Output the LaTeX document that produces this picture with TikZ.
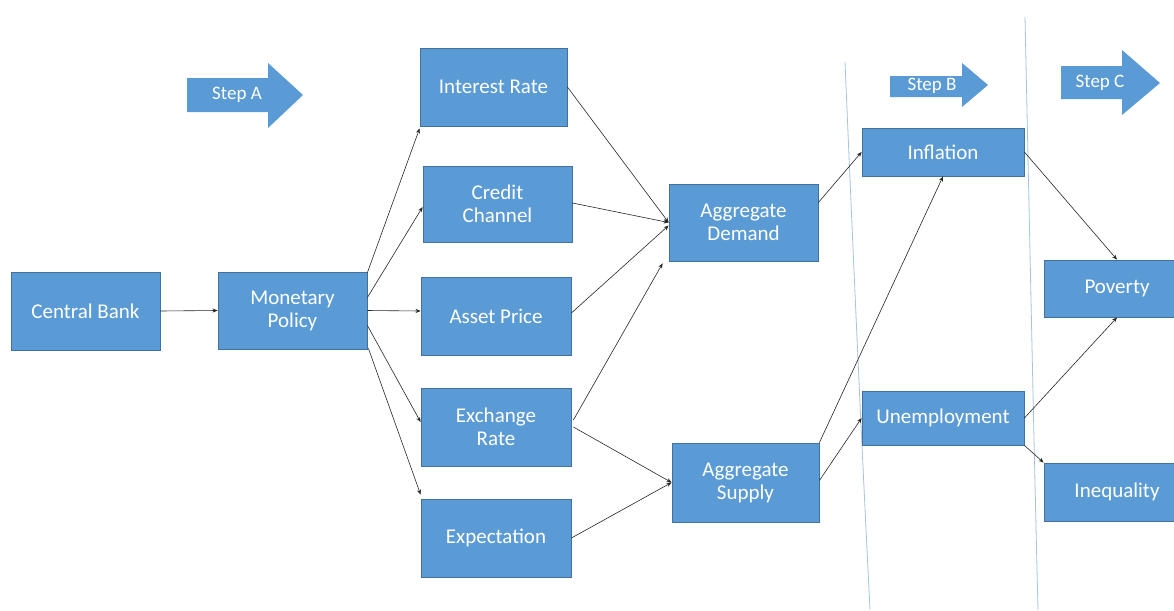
\documentclass[tikz,border=0pt]{standalone}
\usepackage{fontspec}
\setmainfont{Carlito}
\usetikzlibrary{calc,arrows.meta}
\definecolor{boxblue}{HTML}{5B9BD5}
\definecolor{boxedge}{HTML}{41719C}
\definecolor{divider}{HTML}{A7C3E0}
\begin{document}
\begin{tikzpicture}[x=1pt,y=-1pt,
  box/.style={draw=boxedge,line width=0.8pt,fill=boxblue,text=white,inner sep=0pt,
    align=center,font=\fontsize{21}{23}\selectfont},
  link/.style={draw=black!85,line width=0.6pt,-{Stealth[length=5pt,width=4pt]}},
  steparrow/.style={fill=boxblue,draw=none},
  steplabel/.style={text=white,font=\fontsize{19}{21}\selectfont}]
\useasboundingbox[fill=white] (0,0) rectangle (1174,610);

% column dividers
\draw[divider,line width=0.8pt] (845,62) .. controls (855,300) and (862,450) .. (870,610);
\draw[divider,line width=0.8pt] (1025,17) .. controls (1030,250) and (1034,450) .. (1038,610);

% step arrows
\fill[steparrow] (187,78) -- (268,78) -- (268,63) -- (303,95) -- (268,128) -- (268,112) -- (187,112) -- cycle;
\node[steplabel] (stepa) at (237,95) {Step A};
\fill[steparrow] (890,76) -- (962,76) -- (962,63) -- (988,85) -- (962,107) -- (962,97) -- (890,97) -- cycle;
\node[steplabel] (stepb) at (932,86) {Step B};
\fill[steparrow] (1061,66) -- (1122,66) -- (1122,50) -- (1160,83) -- (1122,115) -- (1122,99) -- (1061,99) -- cycle;
\node[steplabel] (stepc) at (1100,83) {Step C};

% boxes
\node[box,minimum width=149,minimum height=78] (cb) at (85.5,311) {Central Bank};
\node[box,minimum width=149,minimum height=77] (mp) at (292.5,310.5) {Monetary\\Policy};
\node[box,minimum width=147,minimum height=78] (ir) at (493.5,87) {Interest Rate};
\node[box,minimum width=149,minimum height=76] (cc) at (497.5,204) {Credit\\Channel};
\node[box,minimum width=150,minimum height=78] (ap) at (496,316) {Asset Price};
\node[box,minimum width=150,minimum height=78] (er) at (496,427) {Exchange\\Rate};
\node[box,minimum width=150,minimum height=78] (ex) at (496,538) {Expectation};
\node[box,minimum width=149,minimum height=77] (ad) at (743.5,222.5) {Aggregate\\Demand};
\node[box,minimum width=147,minimum height=79] (as) at (745.5,482.5) {Aggregate\\Supply};
\node[box,minimum width=162,minimum height=48] (inf) at (943,152) {Inflation};
\node[box,minimum width=162,minimum height=54] (unemp) at (943,418) {Unemployment};
\node[box,minimum width=146,minimum height=57] (pov) at (1117,288.5) {Poverty};
\node[box,minimum width=146,minimum height=58] (ineq) at (1117,492) {Inequality};

% transmission links
\draw[link] (cb.east) -- (mp.west);
\draw[link] ($(mp.north east)+(0,1)$) -- ($(ir.south west)+(0,2)$);
\draw[link] ($(mp.east)+(0,-13)$) -- ($(cc.west)+(0,3)$);
\draw[link] (mp.east) -- ($(ap.west)+(0,-5)$);
\draw[link] ($(mp.east)+(0,15)$) -- ($(er.west)+(0,-5)$);
\draw[link] ($(mp.south east)+(1,-1)$) -- ($(ex.north west)+(0,-4)$);
\draw[link] (ir.east) -- (ad.west);
\draw[link] ($(cc.east)+(0,-1)$) -- (ad.west);
\draw[link] ($(ap.east)+(0,-3)$) -- ($(ad.west)+(0,3)$);
\draw[link] ($(er.east)+(2,-7)$) -- ($(ad.south west)+(-6,2)$);
\draw[link] ($(er.east)+(2,0)$) -- (as.west);
\draw[link] (ex.east) -- (as.west);
\draw[link] ($(ad.east)+(0,-20)$) -- (inf.west);
\draw[link] (as.north east) -- (inf.south);
\draw[link] ($(as.east)+(0,-2)$) -- (unemp.west);
\draw[link] (inf.east) -- (pov.north);
\draw[link] (unemp.east) -- (pov.south);
\draw[link] (unemp.south east) -- ($(ineq.north west)+(0,0)$);
\end{tikzpicture}
\end{document}
